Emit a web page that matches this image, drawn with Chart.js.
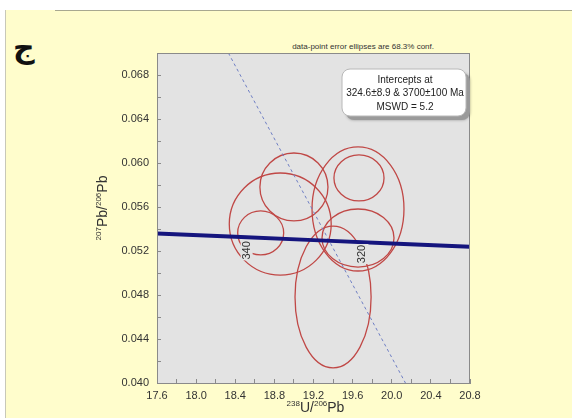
<!DOCTYPE html>
<html>
<head>
<meta charset="utf-8">
<script src="https://cdn.jsdelivr.net/npm/chart.js@4/dist/chart.umd.min.js"></script>
<style>
  html, body { margin: 0; padding: 0; background: #fff; }
  #slide {
    position: absolute; left: 5px; top: 10px; width: 567px; height: 408px;
    background: #fffdcc; border-left: 1px solid #c8c8b8;
  }
  #rule { position: absolute; left: 55px; top: 10px; width: 517px; height: 1px; background: #a8a890; }
  #letter {
    position: absolute; left: 13px; top: 30px;
    font: bold 30px "DejaVu Sans", sans-serif; color: #111;
  }
  #note {
    position: absolute; right: 138px; top: 42px;
    font: 8px "Liberation Sans", Arial, sans-serif; color: #333;
  }
  #chart { position: absolute; left: 0; top: 0; }
</style>
</head>
<body>
<div id="slide"></div>
<div id="rule"></div>
<div id="letter">ج</div>
<div id="note">data-point error ellipses are 68.3% conf.</div>
<canvas id="chart" width="572" height="418"></canvas>
<script>
(function () {
    // Axis tick labels
    const xTicks = [17.6, 18.0, 18.4, 18.8, 19.2, 19.6, 20.0, 20.4, 20.8];
    const yTicks = [0.040, 0.044, 0.048, 0.052, 0.056, 0.060, 0.064, 0.068];

    // Error ellipses: centres and half-axes (238U/206Pb, 207Pb/206Pb)
    const ellipseX  = [19.00, 18.86, 18.66, 19.665, 19.655, 19.655, 19.40];
    const ellipseY  = [0.05782, 0.05445, 0.05364, 0.05864, 0.05582, 0.05318, 0.04782];
    const ellipseRx = [0.348, 0.521, 0.235, 0.256, 0.470, 0.368, 0.389];
    const ellipseRy = [0.00309, 0.00464, 0.00200, 0.00209, 0.00564, 0.00264, 0.00645];

    // Concordia band (upper and lower envelope)
    const concordiaX     = [17.6, 18.4, 19.2, 20.0, 20.8];
    const concordiaUpper = [0.05366, 0.05336, 0.05306, 0.05276, 0.05246];
    const concordiaLower = [0.05352, 0.05322, 0.05292, 0.05262, 0.05232];

    // Age marks on concordia (Ma)
    const ageLabels = ['340', '320'];
    const ageX = [18.465, 19.649];
    const ageY = [0.05333, 0.05300];

    // Regression line through the data
    const discordiaX = [18.33, 20.14];
    const discordiaY = [0.070, 0.040];

    const interceptLines = ['Intercepts at', '324.6\u00b18.9 & 3700\u00b1100 Ma', 'MSWD = 5.2'];

    const textColor = '#333';
    const axisColor = '#8a8a8a';
    const plotGrey = '#e3e3e3';

    const pts = (xs, ys) => xs.map((x, i) => ({ x: x, y: ys[i] }));

    const plotBackground = {
        id: 'plotBackground',
        beforeDraw(chart) {
            const a = chart.chartArea, c = chart.ctx;
            c.save();
            c.fillStyle = plotGrey;
            c.fillRect(a.left, a.top, a.right - a.left, a.bottom - a.top);
            c.restore();
        },
        afterDraw(chart) {
            const a = chart.chartArea, c = chart.ctx;
            c.save();
            c.strokeStyle = axisColor;
            c.lineWidth = 1;
            c.strokeRect(a.left + 0.5, a.top + 0.5, a.right - a.left - 1, a.bottom - a.top);
            c.restore();
        }
    };

    const ellipses = {
        id: 'ellipses',
        beforeDatasetsDraw(chart) {
            const xs = chart.scales.x, ys = chart.scales.y, c = chart.ctx;
            c.save();
            c.strokeStyle = '#c04846';
            c.lineWidth = 1.3;
            ellipseX.forEach((cx, i) => {
                const px = xs.getPixelForValue(cx);
                const py = ys.getPixelForValue(ellipseY[i]);
                const rx = Math.abs(xs.getPixelForValue(cx + ellipseRx[i]) - px);
                const ry = Math.abs(ys.getPixelForValue(ellipseY[i] + ellipseRy[i]) - py);
                c.beginPath();
                c.ellipse(px, py, rx, ry, 0, 0, Math.PI * 2);
                c.stroke();
            });
            c.restore();
        },
        afterDatasetsDraw(chart) {
            const xs = chart.scales.x, ys = chart.scales.y, c = chart.ctx;
            c.save();
            c.font = '11px "Liberation Sans", Arial, sans-serif';
            c.textAlign = 'center';
            c.textBaseline = 'middle';
            ageLabels.forEach((t, i) => {
                const px = xs.getPixelForValue(ageX[i]) + 5;
                const py = ys.getPixelForValue(ageY[i]) + 14;
                c.save();
                c.translate(px, py);
                c.rotate(-Math.PI / 2);
                c.fillStyle = plotGrey;
                c.fillRect(-10, -6, 20, 12);
                c.fillStyle = textColor;
                c.fillText(t, 0, 0);
                c.restore();
            });
            c.restore();
        }
    };

    // Text with superscript isotope masses
    function isotopeText(c, parts, x, y) {
        let w = 0;
        parts.forEach(p => {
            c.font = p.sup ? '8px "Liberation Sans", Arial, sans-serif' : '14px "Liberation Sans", Arial, sans-serif';
            w += c.measureText(p.t).width;
        });
        let cx = x - w / 2;
        parts.forEach(p => {
            c.font = p.sup ? '8px "Liberation Sans", Arial, sans-serif' : '14px "Liberation Sans", Arial, sans-serif';
            c.fillText(p.t, cx, p.sup ? y - 6 : y);
            cx += c.measureText(p.t).width;
        });
    }

    const axisTitles = {
        id: 'axisTitles',
        afterDraw(chart) {
            const a = chart.chartArea, c = chart.ctx;
            c.save();
            c.fillStyle = textColor;
            c.textBaseline = 'alphabetic';
            c.textAlign = 'left';
            isotopeText(c, [{ t: '238', sup: true }, { t: 'U/' }, { t: '206', sup: true }, { t: 'Pb' }],
                (a.left + a.right) / 2 + 2, a.bottom + 29);
            c.translate(a.left - 50, (a.top + a.bottom) / 2 - 10);
            c.rotate(-Math.PI / 2);
            isotopeText(c, [{ t: '207', sup: true }, { t: 'Pb/' }, { t: '206', sup: true }, { t: 'Pb' }], 0, 0);
            c.restore();
        }
    };

    const interceptBox = {
        id: 'interceptBox',
        afterDraw(chart) {
            const a = chart.chartArea, c = chart.ctx;
            const x = a.right - 128, y = a.top + 16, w = 124, h = 47;
            c.save();
            c.fillStyle = '#9a9a9a';
            c.shadowColor = 'rgba(0,0,0,0.35)';
            c.shadowBlur = 3;
            c.beginPath();
            c.roundRect(x + 4, y + 4, w, h, 8);
            c.fill();
            c.shadowColor = 'transparent';
            c.fillStyle = '#fff';
            c.strokeStyle = '#b8b8b8';
            c.beginPath();
            c.roundRect(x, y, w, h, 8);
            c.fill();
            c.stroke();
            c.fillStyle = '#222';
            c.font = '10px "Liberation Sans", Arial, sans-serif';
            c.textAlign = 'center';
            c.textBaseline = 'middle';
            interceptLines.forEach((t, i) => c.fillText(t, x + w / 2 + 1, y + 11 + i * 13.5));
            c.restore();
        }
    };

    const tickFont = { family: '"Liberation Sans", Arial, sans-serif', size: 11 };

    new Chart(document.getElementById('chart'), {
        type: 'scatter',
        data: {
            datasets: [{
                data: pts(concordiaX, concordiaUpper),
                showLine: true, borderColor: '#15157e', borderWidth: 2.4, pointRadius: 0
            }, {
                data: pts(concordiaX, concordiaLower),
                showLine: true, borderColor: '#15157e', borderWidth: 2.4, pointRadius: 0
            }, {
                data: pts(discordiaX, discordiaY),
                showLine: true, borderColor: '#6f7fc4', borderWidth: 1, borderDash: [3, 3], pointRadius: 0
            }]
        },
        options: {
            responsive: false,
            animation: false,
            layout: { padding: { top: 53, right: 102, left: 0, bottom: 0 } },
            plugins: { legend: { display: false }, tooltip: { enabled: false } },
            scales: {
                x: {
                    type: 'linear', min: 17.6, max: 20.8,
                    afterFit(s) { s.height = 35; },
                    afterBuildTicks(s) {
                        const t = [];
                        for (let i = 0; i <= 16; i++) t.push({ value: +(17.6 + i * 0.2).toFixed(1) });
                        s.ticks = t;
                    },
                    border: { display: true, color: axisColor },
                    grid: { drawOnChartArea: false, drawTicks: true, tickLength: -4, color: axisColor },
                    ticks: {
                        autoSkip: false, maxRotation: 0, padding: 10, color: textColor, font: tickFont,
                        callback: v => xTicks.includes(+(+v).toFixed(1)) ? (+v).toFixed(1) : ''
                    }
                },
                y: {
                    type: 'linear', min: 0.040, max: 0.070,
                    afterFit(s) { s.width = 157; },
                    afterBuildTicks(s) {
                        const t = [];
                        for (let i = 0; i <= 15; i++) t.push({ value: +(0.040 + i * 0.002).toFixed(3) });
                        s.ticks = t;
                    },
                    border: { display: true, color: axisColor },
                    grid: { drawOnChartArea: false, drawTicks: true, tickLength: -4, color: axisColor },
                    ticks: {
                        autoSkip: false, padding: 12, color: textColor, font: tickFont,
                        callback: v => yTicks.includes(+(+v).toFixed(3)) ? (+v).toFixed(3) : ''
                    }
                }
            }
        },
        plugins: [plotBackground, ellipses, axisTitles, interceptBox]
    });
})();
</script>
</body>
</html>
